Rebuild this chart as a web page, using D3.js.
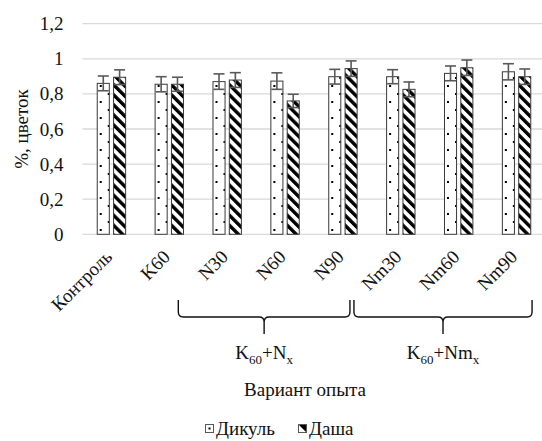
<!DOCTYPE html>
<html>
<head>
<meta charset="utf-8">
<script src="https://cdn.jsdelivr.net/npm/d3@7"></script>
</head>
<body style="margin:0">
<svg id="chart" width="542" height="441" style="font-family:'Liberation Serif'"></svg>
<script>
// Experimental variants and flower share (%) for two varieties
const categories = ["Контроль", "K60", "N30", "N60", "N90", "Nm30", "Nm60", "Nm90"];
const seriesNames = ["Дикуль", "Даша"];
const dikul = [0.86, 0.855, 0.87, 0.873, 0.898, 0.898, 0.917, 0.926];
const dasha = [0.895, 0.855, 0.879, 0.76, 0.944, 0.826, 0.949, 0.898];
const dikulErr = [0.042, 0.043, 0.044, 0.047, 0.042, 0.040, 0.042, 0.046];
const dashaErr = [0.042, 0.040, 0.042, 0.038, 0.044, 0.042, 0.044, 0.044];
const yTickValues = [0, 0.2, 0.4, 0.6, 0.8, 1, 1.2];
const yTickLabels = ["0", "0,2", "0,4", "0,6", "0,8", "1", "1,2"];
const yTitle = "%, цветок";
const xTitle = "Вариант опыта";
// Group braces: first and last category each brace spans
const braceGroups = [
  { from: "K60", to: "N90", main: ["K", "60", "+N", "x"] },
  { from: "N90", to: "Nm90", main: ["K", "60", "+Nm", "x"] }
];

const svg = d3.select("#chart");
const font = 19;
const textColor = "#111";

// Shared text styling
const styleText = sel => sel
  .style("font-family", '"Liberation Serif"')
  .attr("font-size", font)
  .attr("fill", textColor);

// Fill patterns
const defs = svg.append("defs");
const dots = defs.append("pattern")
  .attr("id", "pat-dots").attr("patternUnits", "userSpaceOnUse")
  .attr("width", 16).attr("height", 16).attr("x", 1).attr("y", 3);
dots.append("rect").attr("width", 16).attr("height", 16).attr("fill", "#fff");
dots.append("rect").attr("x", 2).attr("y", 2).attr("width", 2).attr("height", 2).attr("fill", "#000");
dots.append("rect").attr("x", 10).attr("y", 10).attr("width", 2).attr("height", 2).attr("fill", "#000");

const stripes = defs.append("pattern")
  .attr("id", "pat-stripes").attr("patternUnits", "userSpaceOnUse")
  .attr("width", 7.1).attr("height", 7.1)
  .attr("patternTransform", "rotate(-45)");
stripes.append("rect").attr("width", 7.1).attr("height", 7.1).attr("fill", "#fff");
stripes.append("rect").attr("width", 3.4).attr("height", 7.1).attr("fill", "#000");

const fills = ["url(#pat-dots)", "url(#pat-stripes)"];

// Scales
const y = d3.scaleLinear().domain([0, 1.2]).range([234.3, 23.7]);
const x0 = d3.scaleBand().domain(categories).range([82.5, 545.5])
  .paddingInner(0.492).paddingOuter(0.246);
const x1 = d3.scaleBand().domain(seriesNames).range([0, x0.bandwidth()])
  .paddingInner(0.2);
const center = c => x0(c) + x0.bandwidth() / 2;

// Gridlines
svg.append("g").selectAll("line").data(yTickValues).join("line")
  .attr("x1", 82.5).attr("x2", 542)
  .attr("y1", d => y(d)).attr("y2", d => y(d))
  .attr("stroke", "#d9d9d9").attr("stroke-width", 1.3);

// Y axis labels
const yAxis = d3.axisLeft(y).tickValues(yTickValues)
  .tickFormat((d, i) => yTickLabels[i]).tickSize(0).tickPadding(19);
const yg = svg.append("g").attr("transform", "translate(82.5,0)").call(yAxis)
  .attr("font-family", null);
yg.select(".domain").remove();
yg.selectAll("text").call(styleText);

// Y title
svg.append("text")
  .attr("transform", `translate(28,129) rotate(-90)`)
  .attr("text-anchor", "middle").call(styleText)
  .text(yTitle);

// Bars
const rows = categories.map((c, i) => ({
  cat: c,
  vals: [
    { s: seriesNames[0], v: dikul[i], e: dikulErr[i], f: fills[0] },
    { s: seriesNames[1], v: dasha[i], e: dashaErr[i], f: fills[1] }
  ]
}));
const groups = svg.append("g").selectAll("g").data(rows).join("g")
  .attr("transform", d => `translate(${x0(d.cat)},0)`);
groups.selectAll("rect").data(d => d.vals).join("rect")
  .attr("x", d => x1(d.s) + 0.5).attr("width", x1.bandwidth() - 1)
  .attr("y", d => y(d.v)).attr("height", d => y(0) - y(d.v))
  .attr("fill", d => d.f).attr("stroke", "#3a3a3a").attr("stroke-width", 1);

// Error bars
const eb = groups.selectAll("g.err").data(d => d.vals).join("g").attr("class", "err")
  .attr("stroke", "#595959").attr("stroke-width", 1.6).attr("fill", "none");
eb.append("line")
  .attr("x1", d => x1(d.s) + x1.bandwidth() / 2).attr("x2", d => x1(d.s) + x1.bandwidth() / 2)
  .attr("y1", d => y(d.v + d.e)).attr("y2", d => y(d.v - d.e));
[1, -1].forEach(sign => {
  eb.append("line")
    .attr("x1", d => x1(d.s) + x1.bandwidth() / 2 - 5.5)
    .attr("x2", d => x1(d.s) + x1.bandwidth() / 2 + 5.5)
    .attr("y1", d => y(d.v + sign * d.e)).attr("y2", d => y(d.v + sign * d.e));
});

// Category labels, rotated
svg.append("g").selectAll("text").data(categories).join("text")
  .attr("transform", d => `translate(${center(d) + 2},258) rotate(-45)`)
  .attr("text-anchor", "end").call(styleText)
  .text(d => d);

// Curly braces under the grouped variants
const braceTop = 300, braceMid = 317, braceTip = 334, r = 5;
const braceG = svg.append("g");
braceGroups.forEach((b, i) => {
  const xa = center(b.from) + (i === 0 ? 9 : 11);
  const xb = center(b.to) + (i === 0 ? 7 : 15.5);
  const xm = (xa + xb) / 2;
  const p = d3.path();
  p.moveTo(xa, braceTop);
  p.lineTo(xa, braceMid - r);
  p.quadraticCurveTo(xa, braceMid, xa + r, braceMid);
  p.lineTo(xm - r, braceMid);
  p.quadraticCurveTo(xm, braceMid, xm, braceMid + r);
  p.lineTo(xm, braceTip);
  p.moveTo(xm, braceMid + r);
  p.quadraticCurveTo(xm, braceMid, xm + r, braceMid);
  p.lineTo(xb - r, braceMid);
  p.quadraticCurveTo(xb, braceMid, xb, braceMid - r);
  p.lineTo(xb, braceTop);
  braceG.append("path").attr("d", p.toString())
    .attr("fill", "none").attr("stroke", "#111").attr("stroke-width", 1.4);

  const t = braceG.append("text").attr("x", xm).attr("y", 359)
    .attr("text-anchor", "middle").call(styleText);
  t.append("tspan").text(b.main[0]);
  t.append("tspan").attr("dy", 5).attr("font-size", 13).text(b.main[1]);
  t.append("tspan").attr("dy", -5).text(b.main[2]);
  t.append("tspan").attr("dy", 5).attr("font-size", 13).text(b.main[3]);
});

// X axis title
svg.append("text").attr("x", 305).attr("y", 396)
  .attr("text-anchor", "middle").call(styleText)
  .text(xTitle);

// Legend
const legend = svg.append("g");
const legendItems = [
  { name: seriesNames[0], mx: 205, tx: 216 },
  { name: seriesNames[1], mx: 298, tx: 309 }
];
legendItems.forEach((it, i) => {
  const g = legend.append("g").attr("transform", `translate(${it.mx},424)`);
  g.append("rect").attr("x", 0.5).attr("y", 0.5).attr("width", 8).attr("height", 8)
    .attr("fill", "#fff").attr("stroke", "#595959").attr("stroke-width", 1);
  if (i === 0) {
    g.append("rect").attr("x", 3.5).attr("y", 3.5).attr("width", 2).attr("height", 2).attr("fill", "#000");
  } else {
    g.append("path").attr("d", "M1,1 L8,1 L8,8 Z").attr("fill", "#000");
  }
  legend.append("text").attr("x", it.tx).attr("y", 435).call(styleText)
    .text(it.name);
});
</script>
</body>
</html>
